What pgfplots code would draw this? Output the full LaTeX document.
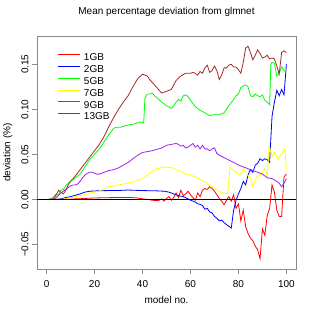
\documentclass[border=0pt]{standalone}
\usepackage{pgfplots}
\pgfplotsset{compat=1.18}
\usepackage{pgfplotstable}
\usepackage{fontspec}
\setmainfont{Liberation Sans}
\definecolor{c1}{HTML}{FF0000}
\definecolor{c2}{HTML}{0000FF}
\definecolor{c5}{HTML}{00FF00}
\definecolor{c7}{HTML}{FFFF00}
\definecolor{c9}{HTML}{A020F0}
\definecolor{c13}{HTML}{A52A2A}
\definecolor{axgray}{HTML}{8A8A8A}

\pgfplotstableread{
m v
1 0
5 0
10 0.0003
15 0.0008
20 0.0015
25 0.0018
30 0.002
35 0.002
38 0.0015
40 0.0005
42 0
44 -0.001
46 -0.0015
47 -0.001
48 0.0005
49 -0.002
50 0.001
51 0.003
52 -0.001
53 0.002
54 0.007
55 0.002
56 0.010
57 0.004
58 0.006
59 0.009
60 0.005
61 0.002
62 -0.001
63 0.007
64 0.003
65 0.010
66 0.012
67 0.011
68 0.014
69 0.012
70 0.009
71 0.005
72 0.001
73 -0.002
74 -0.006
75 -0.001
76 0.003
77 -0.002
78 0.005
79 -0.010
80 -0.005
81 -0.024
82 -0.012
83 -0.030
84 -0.038
85 -0.043
86 -0.046
87 -0.052
88 -0.056
89 -0.066
90 -0.033
91 -0.040
92 -0.018
93 -0.010
94 0.016
95 0.008
96 -0.012
97 -0.019
98 -0.019
99 0.025
100 0.028
}\gbone

\pgfplotstableread{
m v
1 0
4 0
6 0.0005
8 0.002
10 0.003
12 0.0045
14 0.006
16 0.008
18 0.009
20 0.0093
25 0.0097
30 0.0098
34 0.0103
38 0.0099
42 0.0096
46 0.0094
49 0.009
51 0.008
53 0.006
55 0.004
57 0.003
59 0.0005
60 -0.001
62 -0.003
63 -0.005
64 -0.0055
65 -0.007
66 -0.011
67 -0.010
68 -0.014
69 -0.015
70 -0.019
71 -0.021
72 -0.024
73 -0.023
74 -0.026
75 -0.028
76 -0.030
77 -0.032
78 -0.012
79 -0.001
80 0.006
81 0.012
82 0.020
83 0.016
84 0.027
85 0.033
86 0.030
87 0.038
88 0.040
89 0.045
90 0.043
91 0.045
92 0.044
93 0.041
94 0.092
95 0.108
96 0.121
97 0.115
98 0.122
99 0.116
100 0.150
}\gbtwo

\pgfplotstableread{
m v
1 0
2 0.001
3 0.003
4 0.006
5 0.005
6 0.010
7 0.011
8 0.015
9 0.018
10 0.020
12 0.024
14 0.028
16 0.036
18 0.044
20 0.050
22 0.056
24 0.064
26 0.072
28 0.079
29 0.080
31 0.080
33 0.082
35 0.083
37 0.084
39 0.086
40.5 0.085
41 0.112
42 0.117
43 0.117
44 0.118
45 0.115
46 0.113
48 0.108
50 0.104
52 0.101
53 0.104
54 0.108
55 0.111
56 0.109
57 0.115
58 0.116
59 0.114
60 0.110
62 0.103
64 0.099
66 0.096
68 0.093
70 0.094
72 0.094
74 0.096
76 0.104
78 0.111
79 0.115
80 0.117
81 0.124
82 0.126
83 0.127
84 0.125
85 0.115
86 0.114
87 0.117
88 0.115
89 0.114
90 0.116
91 0.110
92 0.108
93 0.105
93.5 0.150
94 0.152
95 0.151
96 0.137
97 0.140
98 0.147
99 0.143
100 0.141
}\gbfive

\pgfplotstableread{
m v
1 0
6 0
8 0.0005
10 0.0015
12 0.003
14 0.004
16 0.005
18 0.007
20 0.008
22 0.009
24 0.012
26 0.014
28 0.0148
30 0.016
32 0.017
34 0.018
36 0.0195
38 0.021
40 0.023
42 0.027
44 0.031
46 0.034
47 0.0345
48 0.036
49 0.035
50 0.0365
51 0.035
52 0.0355
53 0.034
54 0.033
56 0.031
58 0.028
60 0.027
62 0.025
64 0.022
66 0.0195
68 0.015
70 0.012
72 0.0085
74 0.007
75.5 0.0065
76.5 0.036
78 0.032
79 0.030
80.5 0.027
82 0.034
83 0.030
85 0.023
86 0.014
87 0.022
88 0.025
89 0.027
90 0.030
91 0.034
92 0.025
92.8 0.060
94 0.047
95 0.053
96.5 0.044
98 0.051
99.3 0.056
100 0.034
}\gbseven

\pgfplotstableread{
m v
1 0
3 0
4 0.002
6 0.007
8 0.011
10 0.015
11 0.016
12 0.016
13 0.017
14 0.020
15 0.024
16 0.027
17 0.029
18 0.030
19 0.030
20 0.029
21 0.028
22 0.028
24 0.030
26 0.032
28 0.033
30 0.035
32 0.038
34 0.041
36 0.045
38 0.049
40 0.052
42 0.053
44 0.054
46 0.0555
48 0.057
50 0.060
52 0.061
54 0.062
55 0.061
56 0.059
57 0.060
58 0.057
59 0.058
60 0.060
61 0.062
62 0.058
63 0.060
64 0.056
65 0.060
66 0.056
67 0.056
68 0.054
69 0.056
70 0.057
71 0.051
72 0.049
75 0.045
78 0.041
81 0.037
84 0.034
87 0.031
90 0.028
92 0.024
94 0.023
96 0.020
97 0.018
98 0.014
99 0.018
100 0.023
}\gbnine

\pgfplotstableread{
m v
1 0
2 0
3 0.001
4 0.005
5 0.010
6 0.008
7 0.006
8 0.010
9 0.016
10 0.020
12 0.026
14 0.033
16 0.040
18 0.047
20 0.054
22 0.061
24 0.070
26 0.081
28 0.091
30 0.100
32 0.108
34 0.115
36 0.125
38 0.134
40 0.139
42 0.137
43 0.133
44 0.130
46 0.124
48 0.118
50 0.120
52 0.122
54 0.132
56 0.137
58 0.140
60 0.140
61 0.141
62 0.140
63 0.138
64 0.142
65 0.140
66 0.146
67 0.149
68 0.141
69 0.143
70 0.148
71 0.143
72 0.133
73 0.138
74 0.146
75 0.146
76 0.149
77 0.150
78 0.147
79 0.147
80 0.144
81 0.140
82 0.152
83 0.168
84 0.170
85 0.163
86 0.155
87 0.160
88 0.166
89 0.162
90 0.157
91 0.158
92 0.160
93 0.156
94 0.157
95 0.156
96 0.148
97 0.139
98 0.163
99 0.165
100 0.163
}\gbthirteen

\begin{document}
\begin{tikzpicture}
\useasboundingbox (-37bp,-46bp) rectangle (278bp,269bp);
\begin{axis}[
  at={(0,0)}, anchor=south west,
  scale only axis, width=259bp, height=233bp,
  xmin=-4, xmax=104, ymin=-0.0774, ymax=0.1814,
  xtick={0,20,40,60,80,100},
  ytick={-0.05,0,0.05,0.1,0.15},
  yticklabels={−0.05,0.00,0.05,0.10,0.15},
  /pgf/number format/assume math mode=true,
  font=\fontsize{10bp}{12bp}\selectfont,
  ticklabel style={font=\fontsize{10bp}{12bp}\selectfont},
  axis line style={axgray, line width=0.8bp},
  every tick/.style={axgray, line width=0.8bp},
  tick align=outside, major tick length=5bp,
  xtick pos=bottom, ytick pos=left,
  xticklabel style={anchor=base, yshift=-13bp},
  yticklabel style={rotate=90, anchor=south},
  title={Mean percentage deviation from glmnet},
  title style={at={([yshift=15.5bp]rel axis cs:0.5,1)}, anchor=base},
  xlabel={model no.},
  xlabel style={at={([yshift=-34bp]rel axis cs:0.5,0)}, anchor=base},
  ylabel={deviation (\%)},
  ylabel style={at={([xshift=-26.5bp]rel axis cs:0,0.5)}, anchor=base, rotate=0},
  legend style={draw=none, fill=none, at={([xshift=20bp,yshift=-17.1bp]rel axis cs:0,1)}, anchor=north west,
    inner sep=0pt, row sep=2.7bp, column sep=4bp,
    nodes={inner sep=0pt, text height=7.2bp, text depth=2bp},
    font=\fontsize{10bp}{12bp}\selectfont},
  legend cell align=left,
  legend image code/.code={\draw[#1, line width=0.8bp] (0bp,3.6bp) -- (22bp,3.6bp);},
  every axis plot/.append style={line width=0.8bp},
]
\addplot[c1] table {\gbone};
\addlegendentry{1GB}
\addplot[c2] table {\gbtwo};
\addlegendentry{2GB}
\addplot[c5] table {\gbfive};
\addlegendentry{5GB}
\addplot[c7] table {\gbseven};
\addlegendentry{7GB}
\addplot[c9] table {\gbnine};
\addlegendentry{9GB}
\addplot[c13] table {\gbthirteen};
\addlegendentry{13GB}
\addplot[black, forget plot] coordinates {(-4,0) (104,0)};
\end{axis}
\end{tikzpicture}
\end{document}
